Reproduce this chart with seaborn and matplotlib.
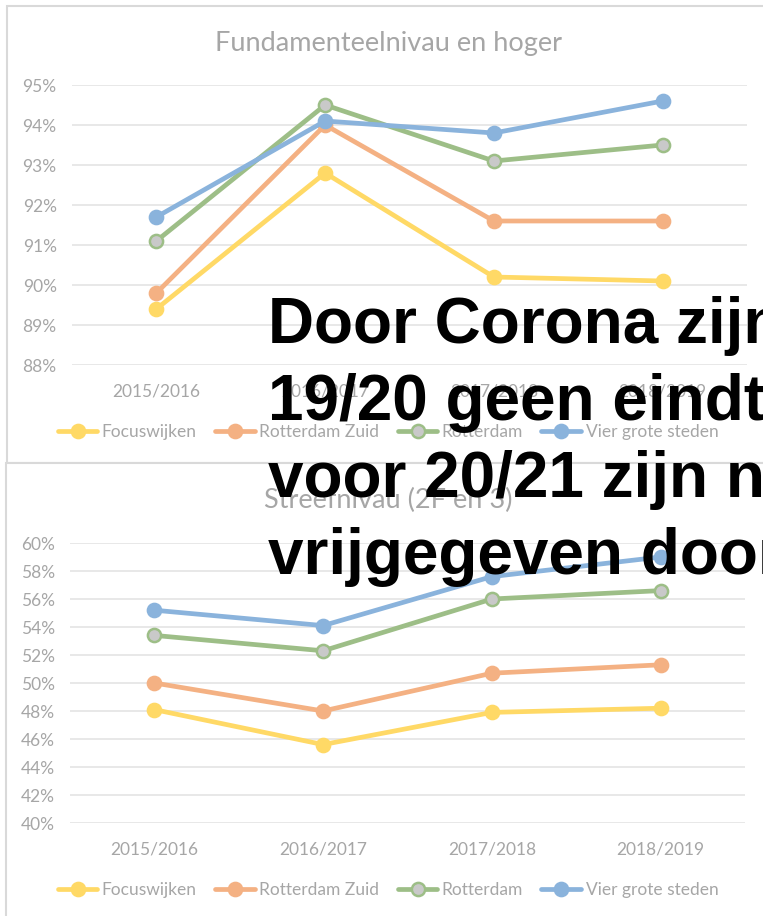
import matplotlib
matplotlib.use("Agg")
import matplotlib.pyplot as plt
from matplotlib.patches import Rectangle
import pandas as pd
import seaborn as sns

# --- data -------------------------------------------------------------
years = ["2015/2016", "2016/2017", "2017/2018", "2018/2019"]
series = ["Focuswijken", "Rotterdam Zuid", "Rotterdam", "Vier grote steden"]

fund_focus = [89.4, 92.8, 90.2, 90.1]
fund_zuid = [89.8, 94.0, 91.6, 91.6]
fund_rdam = [91.1, 94.5, 93.1, 93.5]
fund_g4 = [91.7, 94.1, 93.8, 94.6]

streef_focus = [48.1, 45.6, 47.9, 48.2]
streef_zuid = [50.0, 48.0, 50.7, 51.3]
streef_rdam = [53.4, 52.3, 56.0, 56.6]
streef_g4 = [55.2, 54.1, 57.6, 59.0]

fund_ticks = [88, 89, 90, 91, 92, 93, 94, 95]
streef_ticks = [40, 42, 44, 46, 48, 50, 52, 54, 56, 58, 60]

# --- style ------------------------------------------------------------
sns.set_theme(style="white")
plt.rcParams["font.family"] = ["Lato", "DejaVu Sans"]

colors = {
    "Focuswijken": "#FFD966",
    "Rotterdam Zuid": "#F4B183",
    "Rotterdam": "#9DBE87",
    "Vier grote steden": "#8AB3DC",
}
face = {s: colors[s] for s in series}
face["Rotterdam"] = "#C9C9C9"
GREY = "#A6A6A6"

W, H = 763, 916
fig = plt.figure(figsize=(W / 100, H / 100), dpi=100)
fig.patch.set_facecolor("white")


def px_axes(x0, y0, x1, y1):
    return fig.add_axes([x0 / W, 1 - y1 / H, (x1 - x0) / W, (y1 - y0) / H])


# chart frames (behind the axes)
fig.patches.append(Rectangle((7 / W, 1 - 463 / H), 2, 463 / H - 6 / H,
                             transform=fig.transFigure, facecolor="white",
                             edgecolor="#D9D9D9", lw=1.5, zorder=-2))
fig.patches.append(Rectangle((6 / W, -1), 2, 1 + (1 - 463 / H),
                             transform=fig.transFigure, facecolor="white",
                             edgecolor="#D9D9D9", lw=1.5, zorder=-1))


def draw_chart(ax, values, ticks, chart_title, title_y, legend_y):
    df = pd.DataFrame({
        "jaar": [y for s in series for y in years],
        "pos": [i for s in series for i in range(len(years))],
        "serie": [s for s in series for _ in years],
        "waarde": [v for s in series for v in values[s]],
    })
    for s in series:
        sub = df[df["serie"] == s]
        sns.lineplot(data=sub, x="pos", y="waarde", ax=ax, color=colors[s],
                     lw=3.4, marker="o", markersize=9.5,
                     markerfacecolor=face[s], markeredgecolor=colors[s],
                     markeredgewidth=1.8, label=s, sort=False)
    ax.patch.set_alpha(0)
    ax.set_xlim(-0.5, len(years) - 0.5)
    ax.set_ylim(ticks[0], ticks[-1])
    ax.set_yticks(ticks)
    ax.set_yticklabels([f"{t}%" for t in ticks])
    ax.set_xticks(range(len(years)))
    ax.set_xticklabels(years)
    ax.set_xlabel("")
    ax.set_ylabel("")
    ax.grid(axis="y", color="#E4E4E4", lw=1.2)
    ax.set_axisbelow(True)
    for sp in ax.spines.values():
        sp.set_visible(False)
    ax.tick_params(axis="y", length=0, pad=11, labelsize=12.5, labelcolor=GREY)
    ax.tick_params(axis="x", length=0, pad=13, labelsize=12.5, labelcolor=GREY)
    leg = ax.legend(loc="center", bbox_to_anchor=(388 / W, 1 - legend_y / H),
                    bbox_transform=fig.transFigure, ncol=4,
                    frameon=False, fontsize=12.5, handlelength=2.3,
                    handletextpad=0.25, columnspacing=1.05, borderaxespad=0)
    for t in leg.get_texts():
        t.set_color(GREY)
    fig.text(388 / W, 1 - title_y / H, chart_title, ha="center", va="center",
             color=GREY, fontsize=19.5, zorder=1)


ax1 = px_axes(72, 85, 747, 365)
draw_chart(ax1, {"Focuswijken": fund_focus, "Rotterdam Zuid": fund_zuid,
                 "Rotterdam": fund_rdam, "Vier grote steden": fund_g4},
           fund_ticks, "Fundamenteelnivau en hoger", 43, 432)

ax2 = px_axes(70, 543, 745, 823)
draw_chart(ax2, {"Focuswijken": streef_focus, "Rotterdam Zuid": streef_zuid,
                 "Rotterdam": streef_rdam, "Vier grote steden": streef_g4},
           streef_ticks, "Streefnivau (2F en 3)", 500, 890)

# overlay note
note = ["Door Corona zijn er", "19/20 geen eindtoetsen",
        "voor 20/21 zijn nog", "vrijgegeven door"]
for i, line in enumerate(note):
    fig.text(268 / W, 1 - (343 + 77 * i) / H, line, ha="left", va="baseline",
             fontsize=46, fontweight="bold", color="black",
             family=["Liberation Sans", "DejaVu Sans"], zorder=10)

fig.savefig("out.png", dpi=100)
